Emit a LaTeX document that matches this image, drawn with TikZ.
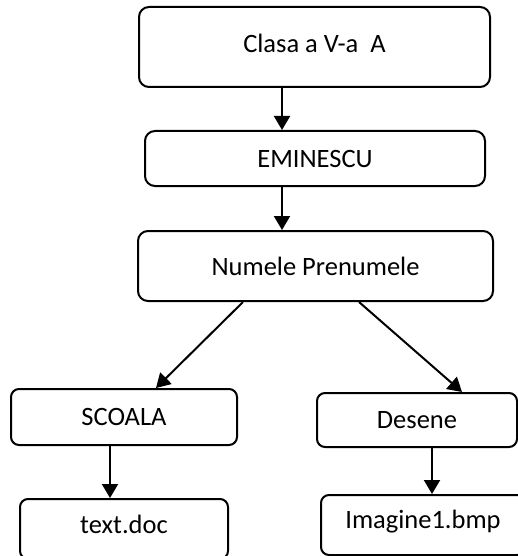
\documentclass[tikz,border=0pt]{standalone}
\usepackage{fontspec}
\setmainfont{Carlito}
\usetikzlibrary{arrows.meta}
\begin{document}
\begin{tikzpicture}[x=1pt,y=-1pt,
  box/.style={draw, line width=2pt, rounded corners=10pt, inner sep=0pt, font=\fontsize{26.5}{31}\selectfont},
  arr/.style={line width=2pt, -{Triangle[width=16pt,length=14pt]}}]
\useasboundingbox (0,0) rectangle (518,556);
\begin{scope}
\clip (0,0) rectangle (518,556);
\node[box, minimum width=351pt, minimum height=80pt] (b1) at (314.5,47) {\raisebox{7pt}{Clasa a V-a\ \ A}};
\node[box, minimum width=340pt, minimum height=55pt] (b2) at (315,158.5) {EMINESCU};
\node[box, minimum width=355pt, minimum height=70pt] (b3) at (315.5,266) {Numele Prenumele};
\node[box, rounded corners=8pt, minimum width=226pt, minimum height=56pt] (s) at (124,417) {SCOALA};
\node[box, rounded corners=8pt, minimum width=200pt, minimum height=54pt] (d) at (417,420) {Desene};
\node[box, rounded corners=8pt, minimum width=208pt, minimum height=60pt] (t) at (124,529) {\raisebox{10pt}{text.doc}};
\node[box, rounded corners=8pt, minimum width=204pt, minimum height=60pt] (im) at (423,525) {\raisebox{11pt}{Imagine1.bmp}};
\end{scope}
\draw[arr] ([xshift=-32.5pt]b1.south) -- ([xshift=-33pt]b2.north);
\draw[arr] ([xshift=-33pt]b2.south) -- ([xshift=-33.5pt]b3.north);
\draw[arr] ([xshift=-72.5pt]b3.south) -- ([xshift=32pt]s.north);
\draw[arr] ([xshift=43.5pt]b3.south) -- ([xshift=45pt]d.north);
\draw[arr] ([xshift=-14pt]s.south) -- ([xshift=-14pt]t.north);
\draw[arr] ([xshift=15pt]d.south) -- ([xshift=9pt]im.north);
\end{tikzpicture}
\end{document}
